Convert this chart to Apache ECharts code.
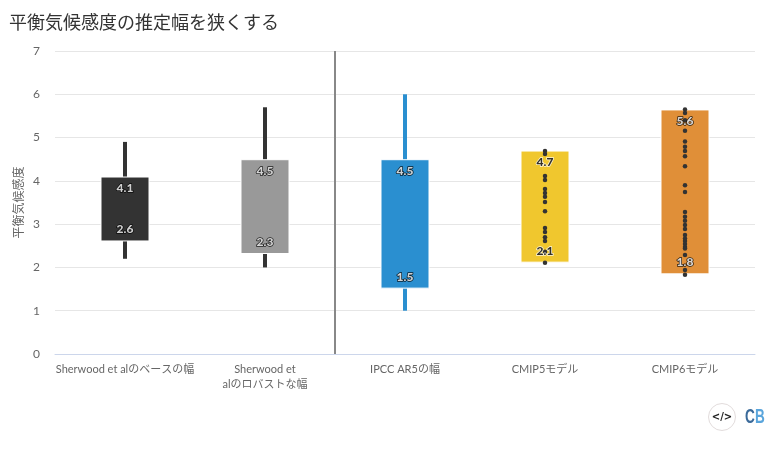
<!DOCTYPE html>
<html><head><meta charset="utf-8">
<style>html,body{margin:0;padding:0;background:#fff}#c{width:780px;height:452px}</style>
<script src="https://cdn.jsdelivr.net/npm/echarts@6/dist/echarts.min.js"></script>
</head><body><div id="c"></div>
<script>
const FONT = 'Lato, "Noto Sans CJK JP", sans-serif';
const categories = ['Sherwood et alのベースの幅', 'Sherwood et\nalのロバストな幅', 'IPCC AR5の幅', 'CMIP5モデル', 'CMIP6モデル'];
const yTicks = [0, 1, 2, 3, 4, 5, 6, 7];
const boxLow = [2.60, 2.31, 1.51, 2.11, 1.84];
const boxHigh = [4.10, 4.50, 4.50, 4.70, 5.65];
const lowLabels = ['2.6', '2.3', '1.5', '2.1', '1.8'];
const highLabels = ['4.1', '4.5', '4.5', '4.7', '5.6'];
const whiskerLow = [2.2, 2.0, 1.0, null, null];
const whiskerHigh = [4.9, 5.7, 6.0, null, null];
const boxColors = ['#333333', '#999999', '#2a8fd0', '#f0c72e', '#e08f38'];
const whiskerColors = ['#333333', '#333333', '#2a8fd0'];
const cmip5 = [4.69, 4.62, 4.11, 4.02, 3.81, 3.72, 3.63, 3.51, 3.30, 2.91, 2.82, 2.70, 2.61, 2.36, 2.11];
const cmip6 = [5.65, 5.57, 5.40, 5.16, 4.91, 4.79, 4.69, 4.57, 4.34, 3.90, 3.74, 3.28, 3.17, 3.08, 2.98, 2.89, 2.75, 2.67, 2.61, 2.54, 2.47, 2.44, 2.29, 1.94, 1.83];
const dividerAt = 2;

const labelBase = {show: true, fontFamily: FONT, fontSize: 12, fontWeight: 900, distance: 6};
const labelStyle = i => i === 3
  ? {color: '#000', textBorderColor: '#fff', textBorderWidth: 1.5}
  : {color: '#fff', textBorderColor: '#000', textBorderWidth: 1.5};

const chart = echarts.init(document.getElementById('c'), null, {renderer: 'canvas'});
chart.setOption({
  animation: false,
  backgroundColor: '#fff',
  title: {text: '平衡気候感度の推定幅を狭くする', left: 4, top: 9,
    textStyle: {fontFamily: FONT, fontSize: 18, fontWeight: 'normal', color: '#333'}},
  grid: {left: 55, right: 25, top: 51, bottom: 98, outerBoundsMode: 'none'},
  xAxis: [
    {type: 'category', data: categories, axisTick: {show: false},
     axisLine: {lineStyle: {color: '#ccd6eb', width: 1}},
     axisLabel: {interval: 0, color: '#666', fontFamily: FONT, fontSize: 11, lineHeight: 15, margin: 8}},
    {type: 'value', min: 0, max: 5, show: false}
  ],
  yAxis: {type: 'value', min: yTicks[0], max: yTicks[yTicks.length - 1], interval: 1,
    name: '平衡気候感度', nameLocation: 'middle', nameGap: 30, nameRotate: 90, nameMoveOverlap: false,
    nameTextStyle: {color: '#666', fontFamily: FONT, fontSize: 12},
    axisLine: {show: false}, axisTick: {show: false},
    axisLabel: {color: '#666', fontFamily: FONT, fontSize: 12, margin: 15},
    splitLine: {lineStyle: {color: '#e6e6e6', width: 1}}},
  series: [
    {type: 'line', xAxisIndex: 1, data: [[dividerAt, 0], [dividerAt, 7]], symbol: 'none', silent: true, z: 2,
     lineStyle: {color: '#888', width: 2}},
    {type: 'custom', z: 3, silent: true,
     data: whiskerLow.map((v, i) => [i, v, whiskerHigh[i]]).filter(d => d[1] !== null),
     encode: {x: 0, y: [1, 2]},
     renderItem: (p, api) => {
       const a = api.coord([api.value(0), api.value(1)]), b = api.coord([api.value(0), api.value(2)]);
       return {type: 'line', shape: {x1: a[0], y1: a[1], x2: b[0], y2: b[1]},
         style: {stroke: whiskerColors[api.value(0)], lineWidth: 4}};
     }},
    {type: 'bar', stack: 'box', barWidth: 49, z: 4, silent: true, data: boxLow,
     itemStyle: {color: 'transparent'}},
    {type: 'bar', stack: 'box', barWidth: 49, z: 4, silent: true,
     data: boxHigh.map((v, i) => ({value: +(v - boxLow[i]).toFixed(2),
       itemStyle: {color: boxColors[i], borderColor: '#fff', borderWidth: 1}}))},
    {type: 'scatter', z: 5, symbol: 'circle', symbolSize: 4.5, itemStyle: {color: '#333', opacity: 1},
     data: cmip5.map(v => [3, v])},
    {type: 'scatter', z: 5, symbol: 'circle', symbolSize: 4.5, itemStyle: {color: '#333', opacity: 1},
     data: cmip6.map(v => [4, v])},
    {type: 'scatter', z: 6, symbolSize: 0, silent: true,
     data: boxHigh.map((v, i) => ({value: [i, v],
       label: {...labelBase, ...labelStyle(i), position: 'bottom', formatter: highLabels[i]}}))},
    {type: 'scatter', z: 6, symbolSize: 0, silent: true,
     data: boxLow.map((v, i) => ({value: [i, v],
       label: {...labelBase, ...labelStyle(i), position: 'top', formatter: lowLabels[i]}}))}
  ],
  graphic: [
    {type: 'circle', shape: {cx: 722, cy: 417, r: 13.5}, style: {fill: '#fff', stroke: '#e2dcdc', lineWidth: 1}},
    {type: 'text', x: 722, y: 417, style: {text: '</>', align: 'center', verticalAlign: 'middle',
      fontFamily: '"DejaVu Sans", sans-serif', fontWeight: 'bold', fontSize: 10, fill: '#222'}},
    {type: 'text', x: 745, y: 417, scaleX: 0.68, style: {text: 'C', verticalAlign: 'middle',
      fontFamily: '"Liberation Sans", sans-serif', fontWeight: 'bold', fontSize: 20, fill: '#3a6a9a'}},
    {type: 'text', x: 755, y: 417, scaleX: 0.68, style: {text: 'B', verticalAlign: 'middle',
      fontFamily: '"Liberation Sans", sans-serif', fontWeight: 'bold', fontSize: 20, fill: '#5aa5dc'}}
  ]
});
</script></body></html>
